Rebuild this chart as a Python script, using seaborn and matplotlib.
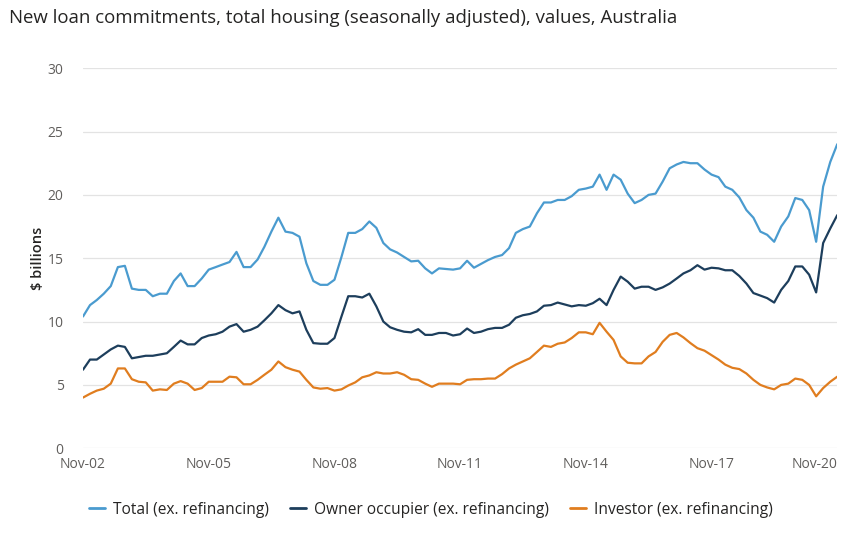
import matplotlib
matplotlib.use("Agg")
import matplotlib.pyplot as plt
import seaborn as sns
import pandas as pd

# readings every second month, Nov-02 .. Nov-20 ($ billions)
total = [
    10.4, 11.3, 11.7, 12.2, 12.8, 14.3, 14.4, 12.6, 12.5, 12.5,
    12.0, 12.2, 12.2, 13.2, 13.8, 12.8, 12.8, 13.4, 14.1, 14.3,
    14.5, 14.7, 15.5, 14.3, 14.3, 14.9, 15.9, 17.1, 18.2, 17.1,
    17.0, 16.7, 14.6, 13.2, 12.9, 12.9, 13.3, 15.1, 17.0, 17.0,
    17.3, 17.9, 17.4, 16.2, 15.7, 15.45, 15.1, 14.75, 14.8, 14.2,
    13.8, 14.2, 14.15, 14.1, 14.2, 14.8, 14.25, 14.55, 14.85, 15.1,
    15.25, 15.8, 17.0, 17.3, 17.5, 18.55, 19.4, 19.4, 19.6, 19.6,
    19.9, 20.4, 20.5, 20.65, 21.6, 20.4, 21.6, 21.2, 20.1, 19.35,
    19.6, 20.0, 20.1, 21.05, 22.1, 22.4, 22.6, 22.5, 22.5, 22.0,
    21.6, 21.4, 20.65, 20.4, 19.8, 18.8, 18.2, 17.1, 16.85, 16.3,
    17.5, 18.3, 19.75, 19.6, 18.8, 16.3, 20.65, 22.6, 24.0,
]
owner = [
    6.2, 7.0, 7.0, 7.4, 7.8, 8.1, 8.0, 7.1, 7.2, 7.3,
    7.3, 7.4, 7.5, 8.0, 8.5, 8.2, 8.2, 8.7, 8.9, 9.0,
    9.2, 9.6, 9.8, 9.2, 9.35, 9.6, 10.1, 10.65, 11.3, 10.9,
    10.65, 10.8, 9.35, 8.3, 8.25, 8.25, 8.7, 10.4, 12.0, 12.0,
    11.9, 12.2, 11.2, 10.0, 9.55, 9.35, 9.2, 9.15, 9.4, 8.95,
    8.95, 9.1, 9.1, 8.9, 9.0, 9.45, 9.1, 9.2, 9.4, 9.5,
    9.5, 9.75, 10.3, 10.5, 10.6, 10.8, 11.25, 11.3, 11.5, 11.35,
    11.2, 11.3, 11.25, 11.45, 11.8, 11.3, 12.5, 13.55, 13.15, 12.6,
    12.75, 12.75, 12.5, 12.7, 13.0, 13.4, 13.8, 14.05, 14.45, 14.1,
    14.25, 14.2, 14.05, 14.05, 13.6, 13.0, 12.25, 12.05, 11.85, 11.5,
    12.5, 13.2, 14.35, 14.35, 13.7, 12.3, 16.2, 17.35, 18.4,
]
investor = [
    4.0, 4.3, 4.55, 4.7, 5.1, 6.3, 6.3, 5.45, 5.25, 5.2,
    4.55, 4.65, 4.6, 5.1, 5.3, 5.1, 4.6, 4.75, 5.25, 5.25,
    5.25, 5.65, 5.6, 5.05, 5.05, 5.4, 5.8, 6.2, 6.85, 6.4,
    6.2, 6.05, 5.4, 4.8, 4.7, 4.75, 4.55, 4.65, 4.95, 5.2,
    5.6, 5.75, 6.0, 5.9, 5.9, 6.0, 5.8, 5.45, 5.4, 5.1,
    4.85, 5.1, 5.1, 5.1, 5.05, 5.4, 5.45, 5.45, 5.5, 5.5,
    5.85, 6.3, 6.6, 6.85, 7.1, 7.6, 8.1, 8.0, 8.25, 8.35,
    8.7, 9.15, 9.15, 9.0, 9.9, 9.2, 8.55, 7.25, 6.75, 6.7,
    6.7, 7.25, 7.6, 8.4, 8.95, 9.1, 8.75, 8.3, 7.9, 7.7,
    7.35, 7.0, 6.6, 6.35, 6.25, 5.9, 5.4, 5.0, 4.8, 4.65,
    5.0, 5.1, 5.5, 5.4, 5.0, 4.1, 4.75, 5.25, 5.65,
]
series_names = ["Total (ex. refinancing)", "Owner occupier (ex. refinancing)",
                "Investor (ex. refinancing)"]
colors = ["#4A9BCF", "#1D3E5C", "#E07D1F"]

dates = pd.date_range("2002-11-01", periods=len(total), freq="2MS")
df = pd.concat([
    pd.DataFrame({"date": dates, "value": vals, "series": name})
    for name, vals in zip(series_names, [total, owner, investor])
])

sns.set_theme(style="white")
plt.rcParams["font.family"] = ["Open Sans", "DejaVu Sans"]

fig = plt.figure(figsize=(8.62, 5.5), dpi=100)
ax = fig.add_axes([0.0963, 0.185, 0.875, 0.691])

sns.lineplot(data=df, x="date", y="value", hue="series", hue_order=series_names,
             palette=colors, linewidth=1.6, ax=ax, legend=False)

ax.set_xlim(dates[0], dates[-1])
ax.set_ylim(0, 30)
ax.set_yticks(range(0, 31, 5))
ax.grid(axis="y", color="#E3E3E3", linewidth=0.9)
ax.set_axisbelow(True)
for s in ax.spines.values():
    s.set_visible(False)

xt = pd.date_range("2002-11-01", "2020-11-01", freq="36MS")
ax.set_xticks(xt)
ax.set_xticklabels([d.strftime("%b-%y") for d in xt])
ax.xaxis.get_ticklabels()[-1].set_horizontalalignment("right")
ax.tick_params(axis="both", colors="#605E5C", labelsize=10, length=0)
ax.tick_params(axis="x", pad=6)
ax.tick_params(axis="y", pad=14)

ax.set_xlabel("")
ax.set_ylabel("$ billions", fontsize=10.5, color="#252423", fontweight="semibold", labelpad=2)

fig.text(0.010, 0.968, "New loan commitments, total housing (seasonally adjusted), values, Australia",
         fontsize=13.4, color="#252423", va="center", ha="left")

handles = [plt.Line2D([], [], color=c, linewidth=2) for c in colors]
fig.legend(handles, series_names, loc="center", bbox_to_anchor=(0.5, 0.073), ncol=3,
           frameon=False, fontsize=11.2, handlelength=1.0, handletextpad=0.5,
           columnspacing=1.4, labelcolor="#252423")

fig.savefig("out.png", dpi=100)
